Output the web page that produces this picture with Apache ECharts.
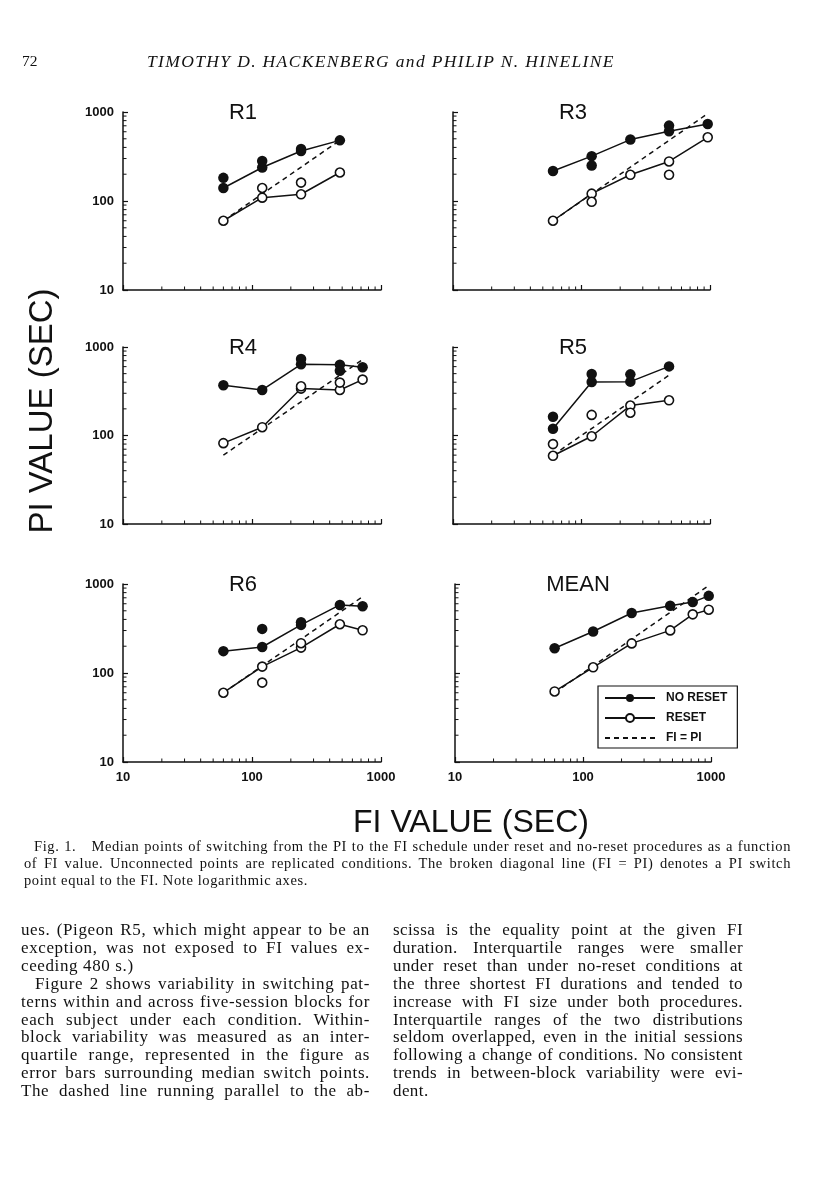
<!DOCTYPE html>
<html>
<head>
<meta charset="utf-8">
<script src="https://cdn.jsdelivr.net/npm/echarts@6/dist/echarts.min.js"></script>
<style>
body { margin: 0; background: #fff; }
#page { position: relative; width: 816px; height: 1200px; overflow: hidden; }
#chart { position: absolute; left: 0; top: 0; width: 816px; height: 1200px; }
.txt { position: absolute; font-family: 'Liberation Serif', serif; color: #111; white-space: nowrap; }
.ln { text-align: justify; text-align-last: justify; }
.last { text-align: left; text-align-last: left; }
</style>
</head>
<body>
<div id="page">
<div id="chart"></div>
<div class="txt" style="left:22px;top:52px;font-size:15.5px;">72</div>
<div id="head" class="txt" style="left:147px;top:51px;font-size:17.5px;font-style:italic;"></div>
<div id="caption" class="txt" style="left:24px;top:838px;width:767px;font-size:14.5px;line-height:17px;"></div>
<div id="colL" class="txt" style="left:21px;top:921px;width:349px;font-size:17px;line-height:17.9px;"></div>
<div id="colR" class="txt" style="left:393px;top:921px;width:350px;font-size:17px;line-height:17.9px;"></div>
</div>
<script>
// FI values (x) and PI switch points (y)
var fiR1 = [60, 120, 240, 480];
var noResetR1 = [140, 238, 365, 480];
var resetR1 = [60, 109, 119, 209];
var noResetRepR1 = [[60, 182], [120, 282], [240, 385]];
var resetRepR1 = [[120, 140], [240, 161]];

var fiR3 = [60, 120, 240, 480, 960];
var noResetR3 = [217, 319, 490, 608, 734];
var resetR3 = [60, 121, 197, 278, 520];
var noResetRepR3 = [[120, 251], [480, 703]];
var resetRepR3 = [[120, 98], [480, 197]];

var fiR4 = [60, 120, 240, 480, 720];
var noResetR4 = [370, 327, 638, 632, 590];
var resetR4 = [82, 124, 339, 327, 428];
var noResetRepR4 = [[240, 732], [480, 540]];
var resetRepR4 = [[240, 360], [480, 396]];

var fiR5 = [60, 120, 240, 480];
var noResetR5 = [119, 403, 406, 604];
var resetR5 = [59, 98, 218, 250];
var noResetRepR5 = [[60, 163], [120, 495], [240, 491]];
var resetRepR5 = [[60, 80], [120, 171], [240, 181]];

var fiR6 = [60, 120, 240, 480, 720];
var noResetR6 = [176, 196, 347, 582, 562];
var resetR6 = [60, 118, 193, 353, 302];
var noResetRepR6 = [[120, 313], [240, 372]];
var resetRepR6 = [[120, 78], [240, 216]];

var fiMean = [60, 120, 240, 480, 720, 960];
var noResetMean = [190, 293, 472, 570, 626, 736];
var resetMean = [62, 116, 215, 301, 456, 514];

var minorTicks = [20, 30, 40, 50, 60, 70, 80, 90, 200, 300, 400, 500, 600, 700, 800, 900];
var panelNames = ['R1', 'R3', 'R4', 'R5', 'R6', 'MEAN'];

var headLine = 'TIMOTHY D. HACKENBERG and PHILIP N. HINELINE';
var captionLines = [
	'Fig. 1.\u2003Median points of switching from the PI to the FI schedule under reset and no-reset procedures as a function',
	'of FI value. Unconnected points are replicated conditions. The broken diagonal line (FI = PI) denotes a PI switch',
	'point equal to the FI. Note logarithmic axes.'
];
var leftLines = [
	'ues. (Pigeon R5, which might appear to be an',
	'exception, was not exposed to FI values ex-',
	'ceeding 480 s.)',
	'Figure 2 shows variability in switching pat-',
	'terns within and across five-session blocks for',
	'each subject under each condition. Within-',
	'block variability was measured as an inter-',
	'quartile range, represented in the figure as',
	'error bars surrounding median switch points.',
	'The dashed line running parallel to the ab-'
];
var rightLines = [
	'scissa is the equality point at the given FI',
	'duration. Interquartile ranges were smaller',
	'under reset than under no-reset conditions at',
	'the three shortest FI durations and tended to',
	'increase with FI size under both procedures.',
	'Interquartile ranges of the two distributions',
	'seldom overlapped, even in the initial sessions',
	'following a change of conditions. No consistent',
	'trends in between-block variability were evi-',
	'dent.'
];

// letter spacing so that the longest line just fills the column (scan is wider than Times)
var measureCtx = document.createElement('canvas').getContext('2d');
function spacingFor(lines, font, width, indents) {
	measureCtx.font = font;
	var best = 0;
	lines.forEach(function(t, i) {
		var w = measureCtx.measureText(t).width + (indents[i] || 0);
		var need = (width - w) / t.length;
		if (i === 0 || need < best) best = need;
	});
	return Math.max(0, best);
}

function fillLines(id, lines, lastIdx, indentIdx, indent, font, width) {
	var el = document.getElementById(id);
	var ind = lines.map(function(t, i) { return indentIdx.indexOf(i) >= 0 ? indent : 0; });
	el.style.letterSpacing = spacingFor(lines, font, width * 0.985, ind).toFixed(2) + 'px';
	lines.forEach(function(t, i) {
		var d = document.createElement('div');
		d.className = lastIdx.indexOf(i) >= 0 ? 'last' : 'ln';
		if (ind[i]) d.style.paddingLeft = ind[i] + 'px';
		d.textContent = t;
		el.appendChild(d);
	});
}
var head = document.getElementById('head');
head.textContent = headLine;
head.style.letterSpacing = spacingFor([headLine], 'italic 17.5px "Liberation Serif"', 468, [0]).toFixed(2) + 'px';
fillLines('caption', captionLines, [2], [0], 10, '14.5px "Liberation Serif"', 767);
fillLines('colL', leftLines, [2], [3], 14, '17px "Liberation Serif"', 349);
fillLines('colR', rightLines, [9], [], 0, '17px "Liberation Serif"', 350);

var panels = [
	{ fi: fiR1, nr: noResetR1, r: resetR1, nrRep: noResetRepR1, rRep: resetRepR1 },
	{ fi: fiR3, nr: noResetR3, r: resetR3, nrRep: noResetRepR3, rRep: resetRepR3 },
	{ fi: fiR4, nr: noResetR4, r: resetR4, nrRep: noResetRepR4, rRep: resetRepR4 },
	{ fi: fiR5, nr: noResetR5, r: resetR5, nrRep: noResetRepR5, rRep: resetRepR5 },
	{ fi: fiR6, nr: noResetR6, r: resetR6, nrRep: noResetRepR6, rRep: resetRepR6 },
	{ fi: fiMean, nr: noResetMean, r: resetMean, nrRep: [], rRep: [] }
];

var grids = [
	{ left: 123, top: 112, width: 258, height: 178 },
	{ left: 453, top: 112, width: 257, height: 178 },
	{ left: 123, top: 347, width: 258, height: 177 },
	{ left: 453, top: 347, width: 257, height: 177 },
	{ left: 123, top: 584, width: 258, height: 178 },
	{ left: 455, top: 584, width: 256, height: 178 }
];

var ink = '#111';
var labelFont = { color: ink, fontSize: 13, fontWeight: 'bold', fontFamily: 'Liberation Sans' };

function axis(i, showLabel, margin) {
	return {
		type: 'log', logBase: 10, gridIndex: i, min: 10, max: 1000,
		axisLine: { lineStyle: { color: ink, width: 1.5 } },
		axisTick: { inside: true, length: 5, lineStyle: { color: ink, width: 1.2 } },
		axisLabel: Object.assign({ show: showLabel, margin: margin, formatter: function(v) { return String(Math.round(v)); } }, labelFont),
		splitLine: { show: false }
	};
}

function minorSeries(i, dir) {
	return {
		type: 'custom', xAxisIndex: i, yAxisIndex: i, silent: true, clip: false, z: 1,
		data: minorTicks.map(function(v) { return dir === 'x' ? [v, 10] : [10, v]; }),
		renderItem: function(params, api) {
			var p = api.coord([api.value(0), api.value(1)]);
			var shape = dir === 'x'
				? { x1: p[0], y1: p[1], x2: p[0], y2: p[1] - 3.5 }
				: { x1: p[0], y1: p[1], x2: p[0] + 3.5, y2: p[1] };
			return { type: 'line', shape: shape, style: { stroke: ink, lineWidth: 1 } };
		}
	};
}

function pairs(xs, ys) {
	return xs.map(function(x, k) { return [x, ys[k]]; });
}

var filled = { color: ink, opacity: 1 };
var hollow = { color: '#fff', borderColor: ink, borderWidth: 1.6, opacity: 1 };

var xAxes = [], yAxes = [], series = [], texts = [];
panels.forEach(function(p, i) {
	var g = grids[i];
	xAxes.push(axis(i, i >= 4, 9));
	yAxes.push(axis(i, i % 2 === 0, 9));
	series.push(minorSeries(i, 'x'), minorSeries(i, 'y'));
	var lo = p.fi[0], hi = p.fi[p.fi.length - 1];
	series.push({
		name: 'FI = PI', type: 'line', xAxisIndex: i, yAxisIndex: i, z: 2,
		data: [[lo, lo], [hi, hi]], symbol: 'none', silent: true,
		itemStyle: { color: 'rgba(0,0,0,0)' },
		lineStyle: { color: ink, width: 1.5, type: [5, 4] }
	});
	series.push({
		name: 'NO RESET', type: 'line', xAxisIndex: i, yAxisIndex: i, z: 3,
		data: pairs(p.fi, p.nr), symbol: 'circle', symbolSize: 10.5,
		itemStyle: filled, lineStyle: { color: ink, width: 1.5 }
	});
	series.push({
		name: 'RESET', type: 'line', xAxisIndex: i, yAxisIndex: i, z: 4,
		data: pairs(p.fi, p.r), symbol: 'circle', symbolSize: 9,
		itemStyle: hollow, lineStyle: { color: ink, width: 1.5 }
	});
	series.push({
		name: 'no reset replication', type: 'scatter', xAxisIndex: i, yAxisIndex: i, z: 3,
		data: p.nrRep, symbol: 'circle', symbolSize: 10.5, itemStyle: filled
	});
	series.push({
		name: 'reset replication', type: 'scatter', xAxisIndex: i, yAxisIndex: i, z: 4,
		data: p.rRep, symbol: 'circle', symbolSize: 9, itemStyle: hollow
	});
	texts.push({
		type: 'text', x: g.left + 120 + (i === 5 ? 3 : 0), y: g.top + 1, z: 10,
		style: { text: panelNames[i], fill: ink, font: '22px "Liberation Sans"', textAlign: 'center', textVerticalAlign: 'middle' }
	});
});

texts.push({
	type: 'text', x: 43, y: 411, rotation: Math.PI / 2, z: 10,
	style: { text: 'PI VALUE (SEC)', fill: ink, font: '33px "Liberation Sans"', textAlign: 'center', textVerticalAlign: 'middle' }
});
texts.push({
	type: 'text', x: 471, y: 823, z: 10,
	style: { text: 'FI VALUE (SEC)', fill: ink, font: '32px "Liberation Sans"', textAlign: 'center', textVerticalAlign: 'middle' }
});

var myChart = echarts.init(document.getElementById('chart'), null, { renderer: 'canvas' });
var option = {
	backgroundColor: 'transparent',
	animation: false,
	grid: grids,
	xAxis: xAxes,
	yAxis: yAxes,
	legend: {
		data: ['NO RESET', 'RESET', 'FI = PI'],
		left: 598, top: 686, orient: 'vertical',
		itemWidth: 50, itemHeight: 10, itemGap: 8,
		padding: [6, 10, 4, 6],
		borderColor: ink, borderWidth: 1.2, backgroundColor: '#fff',
		selectedMode: false,
		textStyle: { color: ink, fontSize: 12, fontWeight: 'bold', fontFamily: 'Liberation Sans', padding: [0, 0, 0, 6] }
	},
	graphic: { elements: texts },
	series: series
};
myChart.setOption(option);
</script>
</body>
</html>
